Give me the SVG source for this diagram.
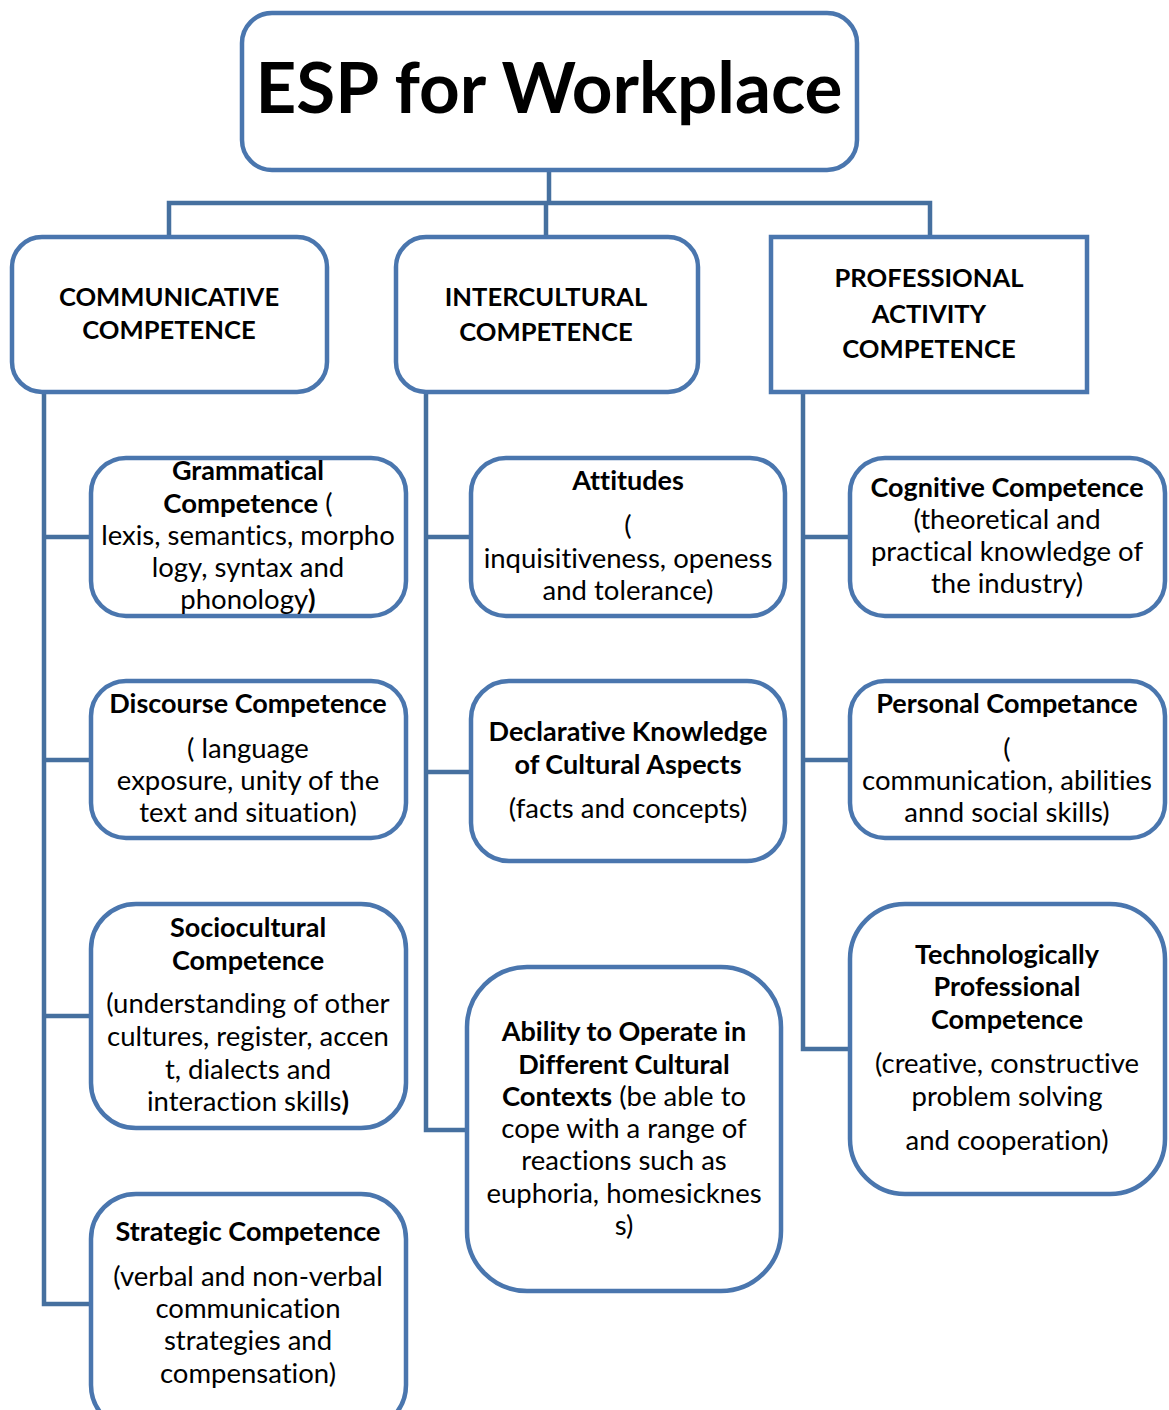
<svg xmlns="http://www.w3.org/2000/svg" width="1169" height="1410" viewBox="0 0 1169 1410">
  <style>
    .box { fill: #ffffff; stroke: #4a76ae; stroke-width: 4.5; }
    .wire { fill: none; stroke: #46709f; stroke-width: 4.5; stroke-linejoin: miter; }
    text { font-family: Lato, "Open Sans", "Liberation Sans", sans-serif; fill: #000000; text-anchor: middle; font-variant-ligatures: none; }
    .t { font-size: 27.5px; }
    .b { font-weight: bold; }
    text.t.b { font-size: 27px; }
    .cat { font-size: 25.6px; font-weight: bold; }
    .title { font-size: 71px; font-weight: bold; }
  </style>
  <rect width="1169" height="1410" fill="#ffffff"/>

  <!-- connectors -->
  <g id="connectors">
    <path class="wire" d="M549,170 V203 M169,237 V203 H930 V237 M546,203 V237"/>
    <path class="wire" d="M44,392 V1304 H91 M44,537 H91 M44,760 H91 M44,1016 H91"/>
    <path class="wire" d="M426,392 V1130 H467 M426,537 H471 M426,772 H471"/>
    <path class="wire" d="M803,392 V1049 H850 M803,537 H850 M803,760 H850"/>
  </g>

  <!-- root -->
  <g id="root">
    <rect class="box" x="242" y="13" width="615" height="157" rx="30"/>
    <text class="title" x="549" y="113">ESP for Workplace</text>
  </g>

  <!-- category nodes -->
  <g id="communicative">
    <rect class="box" x="12" y="237" width="315" height="155" rx="30"/>
    <text class="cat" x="169" y="306">COMMUNICATIVE</text>
    <text class="cat" x="169" y="339">COMPETENCE</text>
  </g>
  <g id="intercultural">
    <rect class="box" x="396" y="237" width="302" height="155" rx="30"/>
    <text class="cat" x="546" y="306">INTERCULTURAL</text>
    <text class="cat" x="546" y="341">COMPETENCE</text>
  </g>
  <g id="professional">
    <rect class="box" x="771" y="237" width="316" height="155"/>
    <text class="cat" x="929" y="287">PROFESSIONAL</text>
    <text class="cat" x="929" y="323">ACTIVITY</text>
    <text class="cat" x="929" y="358">COMPETENCE</text>
  </g>

  <!-- communicative branch -->
  <g id="grammatical">
    <rect class="box" x="91" y="458" width="315" height="158" rx="35"/>
    <text class="t b" x="248" y="480">Grammatical</text>
    <text class="t" x="248" y="513"><tspan class="b">Competence</tspan> (</text>
    <text class="t" x="248" y="545">lexis, semantics, morpho</text>
    <text class="t" x="248" y="577">logy, syntax and</text>
    <text class="t" x="248" y="609">phonology<tspan class="b">)</tspan></text>
  </g>
  <g id="discourse">
    <rect class="box" x="91" y="681" width="315" height="157" rx="35"/>
    <text class="t b" x="248" y="713">Discourse Competence</text>
    <text class="t" x="248" y="758">( language</text>
    <text class="t" x="248" y="790">exposure, unity of the</text>
    <text class="t" x="248" y="822">text and situation)</text>
  </g>
  <g id="sociocultural">
    <rect class="box" x="91" y="904" width="315" height="224" rx="45"/>
    <text class="t b" x="248" y="937">Sociocultural</text>
    <text class="t b" x="248" y="970">Competence</text>
    <text class="t" x="248" y="1013">(understanding of other</text>
    <text class="t" x="248" y="1046">cultures, register, accen</text>
    <text class="t" x="248" y="1079">t, dialects and</text>
    <text class="t" x="248" y="1111">interaction skills<tspan class="b">)</tspan></text>
  </g>
  <g id="strategic">
    <rect class="box" x="91" y="1194" width="315" height="236" rx="45"/>
    <text class="t b" x="248" y="1241">Strategic Competence</text>
    <text class="t" x="248" y="1286">(verbal and non-verbal</text>
    <text class="t" x="248" y="1318">communication</text>
    <text class="t" x="248" y="1350">strategies and</text>
    <text class="t" x="248" y="1383">compensation)</text>
  </g>

  <!-- intercultural branch -->
  <g id="attitudes">
    <rect class="box" x="471" y="458" width="314" height="158" rx="35"/>
    <text class="t b" x="628" y="490">Attitudes</text>
    <text class="t" x="628" y="535">(</text>
    <text class="t" x="628" y="568">inquisitiveness, openess</text>
    <text class="t" x="628" y="600">and tolerance)</text>
  </g>
  <g id="declarative">
    <rect class="box" x="471" y="681" width="314" height="180" rx="38"/>
    <text class="t b" x="628" y="741">Declarative Knowledge</text>
    <text class="t b" x="628" y="774">of Cultural Aspects</text>
    <text class="t" x="628" y="818">(facts and concepts)</text>
  </g>
  <g id="ability">
    <rect class="box" x="467" y="967" width="314" height="324" rx="60"/>
    <text class="t b" x="624" y="1041">Ability to Operate in</text>
    <text class="t b" x="624" y="1074">Different Cultural</text>
    <text class="t" x="624" y="1106"><tspan class="b">Contexts</tspan> (be able to</text>
    <text class="t" x="624" y="1138">cope with a range of</text>
    <text class="t" x="624" y="1170">reactions such as</text>
    <text class="t" x="624" y="1203">euphoria, homesicknes</text>
    <text class="t" x="624" y="1235">s)</text>
  </g>

  <!-- professional activity branch -->
  <g id="cognitive">
    <rect class="box" x="850" y="458" width="315" height="158" rx="35"/>
    <text class="t b" x="1007" y="497">Cognitive Competence</text>
    <text class="t" x="1007" y="529">(theoretical and</text>
    <text class="t" x="1007" y="561">practical knowledge of</text>
    <text class="t" x="1007" y="593">the industry)</text>
  </g>
  <g id="personal">
    <rect class="box" x="850" y="681" width="315" height="157" rx="35"/>
    <text class="t b" x="1007" y="713">Personal Competance</text>
    <text class="t" x="1007" y="758">(</text>
    <text class="t" x="1007" y="790">communication, abilities</text>
    <text class="t" x="1007" y="822">annd social skills)</text>
  </g>
  <g id="technological">
    <rect class="box" x="850" y="904" width="315" height="290" rx="55"/>
    <text class="t b" x="1007" y="964">Technologically</text>
    <text class="t b" x="1007" y="996">Professional</text>
    <text class="t b" x="1007" y="1029">Competence</text>
    <text class="t" x="1007" y="1073">(creative, constructive</text>
    <text class="t" x="1007" y="1106">problem solving</text>
    <text class="t" x="1007" y="1150">and cooperation)</text>
  </g>
</svg>
